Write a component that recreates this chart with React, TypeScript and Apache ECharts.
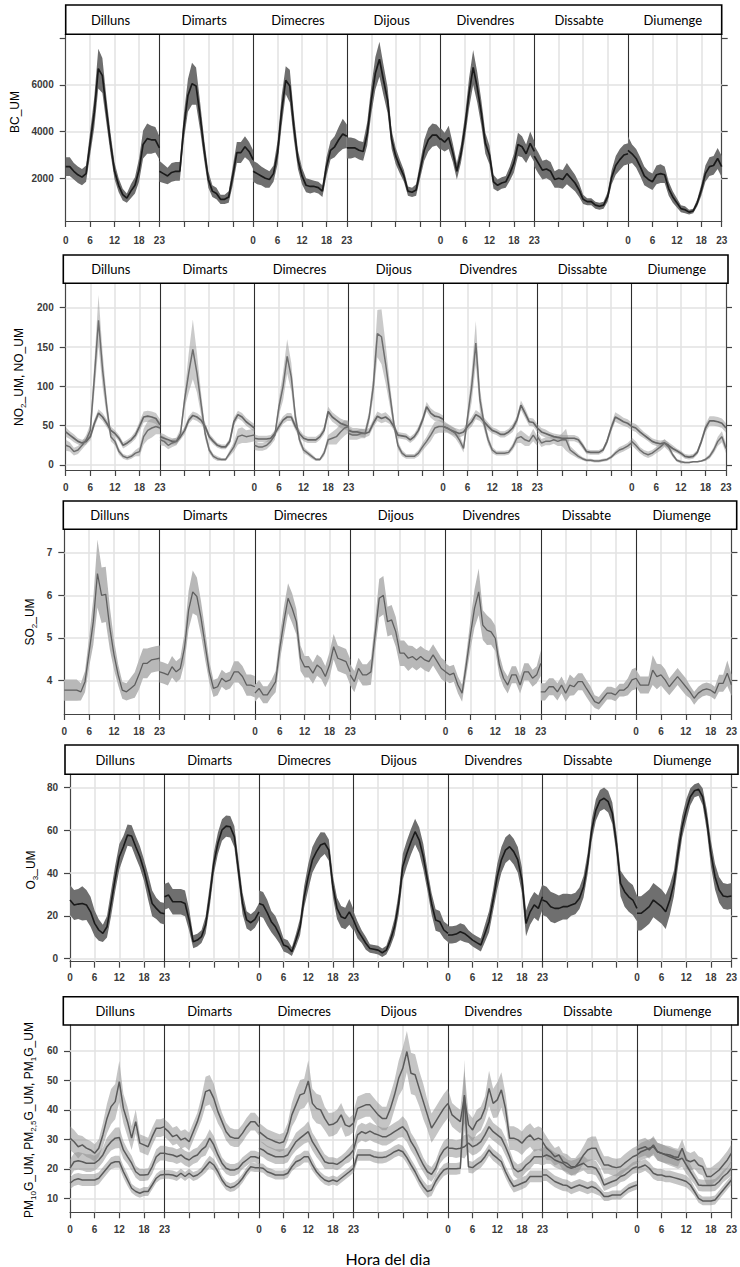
import React, { useEffect, useRef } from "react";
import * as echarts from "echarts";

// ---------- categories / ticks ----------
const days = ["Dilluns", "Dimarts", "Dimecres", "Dijous", "Divendres", "Dissabte", "Diumenge"];
const hourMarks = [0, 6, 12, 18];
const hourLabels = [0, 6, 12, 18, 23];
const labelledDays = [0, 2, 4, 6];
const xTitle = "Hora del dia";

// ---------- BC_UM ----------
const bcMean = [
  [2500, 2500, 2300, 2150, 2050, 2200, 3500, 4800, 6700, 6400, 4900, 3500, 2300, 1700, 1300, 1150, 1450, 1700, 2350, 3450, 3700, 3650, 3650, 3300],
  [2300, 2200, 2100, 2250, 2300, 2300, 4200, 5550, 6050, 5950, 4650, 3200, 1950, 1450, 1350, 1100, 1100, 1200, 2100, 3100, 3100, 3350, 3150, 2800],
  [2300, 2200, 2100, 2000, 1950, 2200, 3100, 4900, 6200, 5950, 4200, 2800, 2100, 1700, 1650, 1650, 1600, 1450, 2500, 3200, 3350, 3650, 3900, 3800],
  [3300, 3300, 3300, 3200, 3150, 3900, 5350, 6500, 7100, 6200, 5350, 3650, 2950, 2500, 2100, 1450, 1400, 1500, 2350, 3200, 3650, 3850, 3850, 3650],
  [3700, 3550, 3750, 3100, 2300, 3050, 4200, 5650, 6750, 5900, 4800, 3500, 3000, 1850, 1700, 1800, 1850, 2200, 2650, 3450, 3350, 3050, 3500, 3150],
  [2950, 2650, 2350, 2400, 2300, 1950, 2000, 1950, 2200, 2000, 1800, 1500, 1100, 1000, 1000, 850, 800, 850, 1200, 2050, 2550, 2800, 3000, 3050],
  [3200, 3050, 2850, 2500, 2100, 1950, 1850, 2150, 2200, 2150, 1550, 1200, 950, 700, 650, 550, 600, 950, 1500, 2200, 2500, 2550, 2850, 2500],
];
const bcHalf = [
  [400, 400, 350, 350, 350, 350, 500, 650, 850, 750, 550, 450, 350, 300, 250, 200, 300, 350, 500, 600, 650, 600, 550, 500],
  [450, 400, 350, 400, 400, 400, 550, 700, 900, 800, 600, 450, 350, 250, 250, 200, 200, 250, 400, 450, 450, 450, 400, 400],
  [450, 450, 400, 400, 350, 350, 500, 650, 600, 700, 550, 400, 350, 300, 300, 250, 250, 250, 400, 400, 450, 550, 650, 500],
  [450, 450, 400, 400, 400, 500, 600, 700, 750, 650, 550, 400, 350, 300, 250, 200, 200, 250, 350, 450, 500, 500, 450, 450],
  [450, 400, 500, 400, 350, 400, 500, 650, 750, 650, 550, 450, 400, 300, 250, 250, 250, 300, 400, 500, 450, 400, 500, 450],
  [450, 450, 400, 400, 400, 350, 400, 400, 450, 400, 350, 300, 200, 150, 150, 150, 150, 150, 200, 300, 400, 450, 450, 450],
  [600, 400, 400, 400, 400, 350, 350, 400, 400, 350, 300, 250, 200, 150, 150, 100, 100, 150, 250, 350, 400, 400, 450, 450],
];

// ---------- NO2_UM ----------
const no2Mean = [
  [42, 38, 34, 30, 28, 30, 36, 53, 66, 61, 53, 44, 40, 34, 25, 28, 32, 38, 49, 61, 62, 61, 59, 51],
  [36, 34, 32, 30, 30, 36, 44, 57, 63, 61, 57, 49, 36, 30, 25, 23, 23, 30, 55, 64, 61, 55, 51, 47],
  [34, 33, 33, 33, 34, 40, 49, 57, 61, 61, 49, 40, 34, 32, 32, 32, 36, 44, 68, 61, 57, 53, 51, 49],
  [44, 42, 42, 41, 40, 42, 53, 62, 59, 61, 57, 49, 38, 37, 36, 32, 36, 44, 57, 74, 66, 62, 61, 58],
  [49, 47, 44, 42, 40, 42, 49, 55, 64, 61, 55, 49, 44, 42, 39, 39, 42, 47, 57, 76, 66, 55, 54, 47],
  [47, 42, 40, 38, 36, 35, 34, 34, 34, 34, 32, 25, 17, 16, 16, 16, 19, 30, 47, 61, 58, 55, 53, 49],
  [49, 47, 42, 38, 34, 30, 28, 27, 28, 25, 21, 18, 15, 11, 10, 11, 16, 30, 47, 56, 56, 55, 53, 47],
];
const no2Half = [
  [6, 5, 5, 4, 4, 4, 5, 5, 5, 5, 5, 5, 4, 4, 4, 4, 4, 5, 6, 7, 7, 7, 7, 7],
  [5, 5, 4, 4, 4, 4, 5, 5, 5, 5, 5, 5, 4, 4, 3, 3, 3, 4, 5, 5, 5, 5, 5, 5],
  [5, 4, 4, 4, 4, 4, 5, 5, 5, 5, 5, 5, 4, 4, 4, 4, 4, 5, 6, 6, 6, 6, 6, 6],
  [6, 5, 5, 5, 5, 5, 5, 6, 6, 6, 5, 5, 4, 4, 4, 4, 4, 5, 5, 6, 6, 6, 5, 5],
  [5, 5, 5, 5, 5, 5, 5, 6, 6, 5, 5, 5, 4, 4, 4, 4, 4, 5, 5, 6, 6, 5, 5, 5],
  [5, 5, 5, 4, 4, 4, 4, 4, 4, 4, 4, 4, 3, 3, 3, 3, 3, 4, 5, 6, 6, 5, 5, 5],
  [5, 5, 5, 4, 4, 4, 4, 4, 4, 4, 4, 3, 3, 3, 3, 3, 3, 4, 5, 6, 6, 6, 6, 6],
];

// ---------- NO_UM ----------
const noMean = [
  [25, 23, 17, 19, 25, 32, 44, 112, 184, 121, 74, 36, 30, 17, 11, 9, 11, 15, 17, 36, 44, 47, 49, 47],
  [32, 30, 25, 28, 30, 40, 83, 117, 147, 117, 78, 40, 19, 11, 8, 7, 7, 15, 23, 36, 38, 36, 37, 38],
  [25, 23, 23, 25, 30, 38, 74, 100, 138, 112, 61, 32, 19, 15, 11, 7, 7, 15, 32, 34, 36, 42, 47, 49],
  [40, 38, 38, 40, 40, 61, 100, 167, 163, 129, 91, 53, 25, 15, 11, 11, 11, 15, 23, 30, 38, 47, 49, 49],
  [49, 47, 44, 40, 32, 21, 61, 100, 155, 83, 53, 32, 19, 15, 15, 15, 16, 23, 34, 36, 32, 30, 38, 30],
  [36, 28, 30, 30, 32, 30, 32, 32, 19, 15, 11, 8, 6, 6, 5, 5, 6, 7, 10, 15, 19, 21, 24, 28],
  [30, 25, 19, 15, 13, 15, 19, 23, 28, 23, 13, 6, 4, 3, 3, 4, 4, 5, 7, 11, 19, 30, 36, 21],
];
const noHalf = [
  [7, 6, 5, 5, 5, 6, 8, 20, 32, 22, 12, 6, 5, 4, 3, 3, 3, 4, 6, 10, 12, 12, 10, 8],
  [7, 6, 5, 5, 5, 6, 10, 25, 38, 25, 14, 7, 4, 3, 3, 2, 2, 4, 6, 10, 10, 8, 8, 8],
  [6, 5, 5, 5, 5, 6, 10, 18, 22, 18, 10, 5, 4, 3, 3, 2, 2, 4, 6, 8, 10, 10, 10, 8],
  [8, 6, 6, 6, 6, 8, 15, 30, 35, 25, 15, 8, 5, 4, 3, 3, 3, 4, 5, 6, 8, 8, 8, 8],
  [8, 6, 6, 6, 6, 5, 10, 20, 28, 15, 8, 6, 4, 3, 3, 3, 3, 4, 6, 8, 8, 6, 8, 6],
  [6, 5, 5, 5, 5, 6, 8, 14, 5, 4, 3, 2, 2, 2, 2, 2, 2, 2, 2, 3, 4, 4, 4, 5],
  [5, 5, 4, 4, 4, 4, 4, 5, 5, 5, 3, 2, 2, 1, 1, 1, 1, 1, 2, 3, 4, 6, 7, 6],
];

// ---------- SO2_UM ----------
const so2Mean = [
  [3.77, 3.77, 3.77, 3.77, 3.73, 3.97, 4.67, 5.38, 6.51, 6.0, 6.02, 5.22, 4.6, 4.13, 3.77, 3.73, 3.81, 3.89, 4.13, 4.4, 4.4, 4.48, 4.5, 4.52],
  [4.2, 4.17, 4.13, 4.32, 4.2, 4.28, 4.75, 5.65, 6.08, 5.97, 5.46, 4.83, 4.2, 3.81, 3.85, 4.05, 3.97, 4.01, 4.2, 4.2, 4.09, 3.89, 3.89, 3.85],
  [3.7, 3.81, 3.66, 3.66, 3.81, 3.97, 4.75, 5.38, 5.93, 5.69, 5.38, 4.52, 4.32, 4.32, 4.17, 4.36, 4.28, 4.09, 4.36, 4.79, 4.52, 4.48, 4.44, 4.2],
  [4.13, 3.97, 4.28, 4.13, 4.13, 4.2, 5.07, 5.93, 6.0, 5.38, 5.42, 5.14, 4.64, 4.64, 4.52, 4.56, 4.48, 4.56, 4.48, 4.44, 4.6, 4.44, 4.28, 4.2],
  [4.2, 4.13, 4.17, 3.89, 3.7, 4.36, 5.07, 5.69, 6.08, 5.3, 5.18, 5.14, 4.99, 4.36, 4.05, 3.89, 4.13, 4.13, 3.89, 4.2, 4.2, 4.05, 4.13, 4.4],
  [3.73, 3.73, 3.85, 3.85, 3.73, 3.89, 3.7, 3.89, 3.85, 3.97, 3.97, 3.81, 3.66, 3.5, 3.46, 3.58, 3.7, 3.7, 3.66, 3.77, 3.77, 3.85, 4.01, 4.05],
  [4.05, 3.89, 3.89, 3.89, 4.24, 4.09, 4.13, 4.01, 3.85, 3.97, 4.09, 3.97, 3.85, 3.73, 3.58, 3.7, 3.77, 3.8, 3.77, 3.7, 3.93, 3.93, 4.17, 3.89],
];
const so2Half = [
  [0.25, 0.25, 0.25, 0.25, 0.2, 0.25, 0.35, 0.55, 0.8, 0.65, 0.65, 0.5, 0.35, 0.25, 0.2, 0.2, 0.25, 0.3, 0.35, 0.35, 0.35, 0.3, 0.3, 0.3],
  [0.25, 0.25, 0.25, 0.25, 0.25, 0.25, 0.35, 0.45, 0.5, 0.45, 0.4, 0.35, 0.25, 0.2, 0.2, 0.2, 0.2, 0.2, 0.25, 0.25, 0.25, 0.25, 0.25, 0.25],
  [0.2, 0.2, 0.2, 0.2, 0.2, 0.25, 0.3, 0.35, 0.35, 0.35, 0.3, 0.3, 0.25, 0.25, 0.25, 0.25, 0.25, 0.25, 0.3, 0.3, 0.3, 0.3, 0.3, 0.3],
  [0.25, 0.25, 0.25, 0.25, 0.25, 0.3, 0.35, 0.45, 0.45, 0.35, 0.35, 0.35, 0.3, 0.3, 0.3, 0.25, 0.25, 0.25, 0.25, 0.25, 0.25, 0.25, 0.25, 0.25],
  [0.2, 0.2, 0.2, 0.2, 0.2, 0.25, 0.35, 0.45, 0.55, 0.35, 0.35, 0.3, 0.3, 0.25, 0.2, 0.2, 0.2, 0.2, 0.2, 0.2, 0.2, 0.2, 0.2, 0.3],
  [0.2, 0.2, 0.2, 0.2, 0.2, 0.2, 0.2, 0.25, 0.2, 0.2, 0.2, 0.2, 0.2, 0.15, 0.15, 0.15, 0.15, 0.15, 0.15, 0.15, 0.15, 0.2, 0.25, 0.25],
  [0.2, 0.2, 0.2, 0.2, 0.35, 0.3, 0.25, 0.25, 0.2, 0.2, 0.2, 0.2, 0.2, 0.15, 0.15, 0.15, 0.15, 0.15, 0.15, 0.15, 0.2, 0.2, 0.3, 0.25],
];

// ---------- O3_UM ----------
const o3Mean = [
  [27.4, 25.1, 25.5, 25.8, 25.1, 21.9, 16.5, 13.4, 11.8, 14.9, 25.8, 37.5, 47.6, 52.3, 57.7, 57.3, 52.3, 47.6, 41.4, 33.6, 25.8, 23.5, 21.5, 21],
  [28.9, 29.7, 26.6, 26.6, 26.6, 25.8, 18.1, 7.9, 8.7, 10.3, 15.7, 28.9, 44.5, 53.9, 60.1, 61.9, 61.6, 57.0, 41.4, 25.8, 18.1, 16.8, 18.4, 21.9],
  [25.8, 25.1, 21.5, 17.3, 14.9, 11.1, 6.4, 5.6, 3.3, 8.7, 14.9, 28.9, 38.3, 46.1, 50.0, 53.1, 53.9, 50.7, 33.6, 23.5, 19.6, 18.8, 21.9, 18.1],
  [18.1, 13.4, 10.3, 7.2, 4.8, 4.4, 4.0, 2.8, 4.0, 8.7, 14.9, 25.8, 43.0, 49.2, 54.6, 59.3, 55.4, 47.6, 36.7, 25.8, 18.1, 17.3, 13.4, 11.8],
  [11.1, 11.1, 11.5, 12.6, 11.8, 10.3, 8.7, 7.5, 6.4, 11.8, 17.3, 27.4, 38.3, 46.1, 50.7, 52.3, 50.0, 46.1, 36.7, 16.5, 21.9, 25.1, 23.5, 28.9],
  [27.4, 26.6, 24.3, 23.5, 23.5, 24.3, 24.3, 25.1, 25.8, 28.2, 33.6, 44.5, 60.1, 69.4, 73.8, 74.9, 73.3, 67.9, 53.9, 35.2, 31.3, 28.9, 27.4, 23.5],
  [21.2, 21.2, 22.7, 24.3, 27.4, 25.8, 24.3, 21.9, 27.4, 35.2, 49.2, 61.6, 69.4, 75.6, 78.4, 79.1, 75.6, 64.7, 49.2, 38.3, 32.1, 29.3, 28.9, 29.3],
];
const o3Half = [
  [7, 7, 7, 8, 7, 7, 6, 5, 4, 5, 6, 6, 6, 5, 5, 5, 5, 5, 5, 6, 6, 5, 5, 5],
  [6, 6, 6, 6, 6, 6, 5, 3, 3, 3, 4, 5, 5, 5, 5, 5, 5, 5, 5, 5, 4, 4, 4, 4],
  [6, 6, 6, 5, 5, 4, 3, 3, 2, 3, 4, 5, 6, 6, 6, 6, 5, 5, 5, 5, 5, 5, 6, 5],
  [4, 4, 3, 3, 2, 2, 2, 2, 2, 3, 4, 5, 6, 6, 6, 6, 6, 6, 5, 5, 5, 5, 4, 4],
  [4, 4, 4, 4, 4, 3, 3, 3, 3, 4, 5, 5, 6, 6, 6, 6, 6, 6, 6, 6, 6, 6, 6, 6],
  [7, 7, 7, 7, 6, 6, 6, 5, 5, 5, 5, 5, 5, 5, 5, 5, 5, 5, 5, 6, 7, 7, 7, 6],
  [8, 8, 8, 8, 8, 8, 8, 8, 7, 6, 6, 5, 5, 4, 3, 3, 4, 5, 6, 6, 6, 6, 6, 6],
];

// ---------- PM10G_UM ----------
const pm10Mean = [
  [30.4, 29.2, 27.5, 28.1, 27, 26.4, 25.3, 27, 31.5, 37.1, 41.1, 42.8, 49.6, 40.5, 36, 30.4, 36, 28.7, 28.1, 27.5, 30.9, 33.8, 33.8, 34.3],
  [33.8, 32.6, 30.9, 31.5, 29.8, 30.4, 29.2, 32.6, 36, 40.5, 46.2, 46.8, 43.9, 39.4, 36, 32.6, 30.9, 30.4, 30.4, 32.1, 34.3, 36, 36, 34.3],
  [32.6, 31.5, 30.4, 29.8, 29.2, 28.7, 29.2, 32.6, 38.3, 41.7, 45.1, 45.6, 49.8, 42.2, 40.5, 40, 37.1, 34.9, 35.1, 36, 38.3, 34.9, 34.3, 35.5],
  [35.5, 40.5, 41.1, 41.7, 41.7, 40, 38.3, 37.1, 37.1, 40.5, 45.1, 50.7, 54.1, 59.8, 52.4, 51.9, 47.3, 42.8, 38.3, 33.8, 36, 38.3, 40.5, 42.2],
  [42.2, 38.3, 37.1, 36, 44.5, 34.9, 33.2, 36, 37.1, 40.5, 47.3, 42.2, 43.4, 46.8, 40.5, 30.4, 30.4, 29.8, 28.7, 30.4, 31.5, 29.8, 30.4, 29.8],
  [29.2, 27, 25.8, 24.1, 24.7, 22.4, 21.9, 20.7, 20.7, 22.4, 24.7, 26.4, 27, 27, 24.1, 21.3, 21.3, 20.7, 20.4, 20.7, 21.9, 23, 24.1, 24.7],
  [26.4, 27, 27.5, 26.4, 28.1, 25.8, 25.3, 24.9, 24.7, 24.1, 23.8, 27, 23, 22.4, 23, 21.3, 20.7, 17.4, 17.4, 18.5, 19.6, 21.3, 23, 25.3],
];
const pm10Half = [
  [4, 4, 4, 3, 3, 3, 3, 3, 4, 5, 6, 6, 7, 5, 5, 4, 4, 3, 3, 3, 3, 3, 3, 3],
  [3, 3, 3, 3, 3, 3, 3, 3, 3, 4, 5, 5, 5, 4, 3, 3, 3, 3, 3, 3, 3, 3, 3, 3],
  [3, 3, 3, 3, 3, 3, 3, 3, 4, 5, 5, 5, 7, 5, 5, 5, 4, 4, 4, 4, 4, 4, 3, 3],
  [4, 4, 4, 4, 4, 4, 4, 4, 4, 5, 5, 6, 7, 7, 7, 7, 6, 6, 5, 5, 5, 5, 5, 5],
  [5, 4, 4, 4, 9, 4, 4, 4, 4, 4, 6, 5, 6, 6, 5, 4, 4, 4, 4, 4, 4, 4, 4, 4],
  [4, 4, 3, 3, 3, 3, 3, 3, 3, 3, 3, 4, 4, 4, 3, 3, 3, 3, 3, 3, 3, 3, 3, 3],
  [3, 3, 3, 3, 3, 3, 3, 3, 3, 3, 3, 3, 3, 3, 3, 3, 3, 3, 3, 3, 3, 3, 3, 3],
];

// ---------- PM2.5G_UM ----------
const pm25Mean = [
  [20.2, 22.4, 22.7, 22.4, 21.9, 21.9, 21.9, 23, 24.7, 27.5, 29.2, 30.4, 30.6, 26.4, 24.1, 21.9, 19, 17.9, 17.9, 18.1, 20.7, 24.1, 25.3, 25.3],
  [25.3, 24.9, 24.7, 24.1, 24.7, 23.6, 23, 24.1, 24.7, 26.4, 27.5, 30.4, 28.1, 24.7, 21.9, 20.2, 19.6, 19.6, 20.2, 21.9, 23, 24.1, 24.1, 23.6],
  [27, 26.4, 25.3, 24.7, 24.1, 24.1, 24.1, 24.7, 27, 29.2, 30.4, 31.5, 32.6, 29.2, 27, 24.7, 22.4, 21.9, 21.9, 21.5, 22.4, 23.6, 24.7, 26.4],
  [26.4, 31.5, 32.6, 32, 32.8, 32, 31.5, 30.9, 30.9, 31.7, 32.6, 33.5, 34.3, 32.6, 29.2, 27, 24.1, 21.3, 19, 18.1, 20.2, 24.1, 26.4, 27.5],
  [27, 27, 26.7, 27, 27.5, 28.7, 27.5, 28.1, 29.2, 31.5, 34.3, 32.6, 31.5, 30.4, 27.5, 24.1, 20.2, 19, 19.6, 21.3, 22.4, 24.1, 24.1, 24.1],
  [24.1, 24.7, 24.1, 23, 22.4, 21.9, 20.7, 20.2, 20.7, 21.3, 21.9, 20.7, 20.7, 20.2, 17.9, 14.5, 15.1, 15.7, 16.2, 17.4, 17.9, 19, 20.2, 20.7],
  [24.7, 25.8, 26.4, 27, 27.5, 25.8, 25.3, 24.7, 24.1, 23.6, 23, 23.6, 21.3, 19, 16.8, 14.5, 14.3, 14.3, 14.3, 14.5, 15.7, 17.4, 18.5, 20.2],
];
const pm25Half = [
  [3, 3, 3, 3, 3, 3, 2.5, 2.5, 2.5, 3, 3, 3.5, 3.5, 3, 2.5, 2.5, 2, 2, 2, 2, 2.5, 2.5, 2.5, 2.5],
  [2.5, 2.5, 2.5, 2.5, 2.5, 2.5, 2.5, 2.5, 2.5, 2.5, 3, 3, 3, 2.5, 2, 2, 2, 2, 2, 2, 2, 2, 2, 2],
  [2.5, 2.5, 2.5, 2.5, 2.5, 2.5, 2.5, 2.5, 2.5, 3, 3, 3, 3.5, 3, 3, 2.5, 2.5, 2, 2, 2, 2, 2, 2.5, 2.5],
  [3, 3, 3, 3, 3, 3, 3, 3, 3, 3, 3, 3, 3.5, 3.5, 3, 3, 3, 2.5, 2.5, 2.5, 2.5, 2.5, 3, 3],
  [3, 3, 3, 3, 4, 3, 3, 3, 3, 3, 3.5, 3, 3, 3, 3, 2.5, 2.5, 2.5, 2.5, 2.5, 2.5, 2.5, 2.5, 3],
  [3, 3, 2.5, 2.5, 2.5, 2.5, 2.5, 2.5, 2.5, 2.5, 2.5, 2.5, 2.5, 2.5, 2.5, 2, 2, 2, 2, 2, 2, 2, 2, 2],
  [3, 3, 3, 3, 3, 3, 3, 3, 3, 3, 3, 3, 3, 2.5, 2, 2, 2, 2, 2, 2, 2, 2, 2, 2.5],
];

// ---------- PM1G_UM ----------
const pm1Mean = [
  [15.1, 16.2, 16.6, 16.2, 16.2, 16.2, 16.2, 16.8, 18.5, 20.2, 21.9, 22.4, 22.4, 19, 16.2, 13.4, 12.3, 11.7, 12.3, 12.3, 14.5, 16.8, 17.9, 18.1],
  [18.1, 18.1, 17.9, 17.4, 18.5, 17.4, 18.5, 17.4, 17.9, 19, 20.7, 22.4, 21.3, 19, 16.2, 14.3, 13.6, 14, 15.1, 16.8, 19, 20.7, 20.4, 20.4],
  [20.4, 20.2, 19, 18.5, 17.9, 17.9, 17.9, 18.5, 20.7, 22.4, 23, 24.1, 24.1, 21.3, 19, 17.4, 16.2, 15.7, 16.2, 15.7, 16.8, 17.9, 19, 20.2],
  [20.2, 24.7, 24.7, 24.7, 24.7, 24.1, 23.8, 23.8, 24.1, 24.9, 25.8, 26.4, 25.8, 23.8, 21.3, 19, 16.2, 14, 12.3, 12.8, 15.7, 17.9, 19.6, 20.2],
  [20, 20, 20, 20.2, 45, 20.7, 20.4, 21.5, 22.4, 24.1, 26.4, 24.7, 23.6, 22.4, 19, 16.2, 14, 14.5, 15.1, 15.7, 17.4, 17.4, 17.4, 17.4],
  [17.9, 17.9, 16.8, 15.7, 15.1, 14.5, 14.3, 13.4, 14, 14.5, 14, 13.4, 14, 13.4, 12.3, 10.6, 10.6, 11.1, 11.1, 11.1, 12.3, 13.4, 14, 14.5],
  [20.2, 20.7, 21.3, 20.2, 18.5, 17.9, 17.9, 17.4, 17.4, 17, 16.6, 16.2, 15.7, 14.5, 12.3, 10, 9.1, 9.1, 9.1, 9.4, 11.1, 12.8, 14.5, 16.2],
];
const pm1Half = [
  [2, 2, 2, 2, 2, 2, 2, 2, 2, 2, 2, 2, 2, 2, 2, 1.5, 1.5, 1.5, 1.5, 1.5, 1.5, 1.5, 1.5, 1.5],
  [1.5, 1.5, 1.5, 1.5, 1.5, 1.5, 1.5, 1.5, 1.5, 1.5, 2, 2, 2, 2, 1.5, 1.5, 1.5, 1.5, 1.5, 1.5, 1.5, 1.5, 1.5, 1.5],
  [1.5, 1.5, 1.5, 1.5, 1.5, 1.5, 1.5, 1.5, 1.5, 2, 2, 2, 2, 2, 1.5, 1.5, 1.5, 1.5, 1.5, 1.5, 1.5, 1.5, 1.5, 1.5],
  [2, 2, 2, 2, 2, 2, 2, 2, 2, 2, 2, 2, 2, 2, 2, 2, 2, 2, 2, 2, 2, 2, 2, 2],
  [2, 2, 2, 2, 12, 2, 2, 2, 2, 2, 2, 2, 2, 2, 2, 2, 2, 2, 2, 2, 2, 2, 2, 2],
  [2, 2, 2, 2, 2, 2, 2, 2, 2, 2, 2, 2, 2, 2, 1.5, 1.5, 1.5, 1.5, 1.5, 1.5, 1.5, 1.5, 1.5, 1.5],
  [2, 2, 2, 2, 2, 2, 2, 2, 2, 2, 2, 2, 2, 2, 1.5, 1.5, 1.5, 1.5, 1.5, 1.5, 1.5, 1.5, 1.5, 1.5],
];

// ---------- y axis ticks ----------
const bcTicks = [2000, 4000, 6000, 8000];
const bcLabels = [2000, 4000, 6000];
const noxTicks = [0, 50, 100, 150, 200];
const so2Ticks = [4, 5, 6, 7];
const o3Ticks = [0, 20, 40, 60, 80];
const pmTicks = [10, 20, 30, 40, 50, 60];

// ---------- layout ----------
const SPAN = 23; // x units per day
const X_MAX = SPAN * days.length;

const DARK = "#1a1a1a";
const DARK_BAND = "#6f6f6f";

const panels = [
  {
    grid: { left: 65.7, top: 34.3, width: 656, height: 186.7 },
    strip: { x: 65.7, y: 5, w: 656, h: 29.3 },
    yMin: 170, yMax: 8170, yTicks: bcTicks, yLabels: bcLabels, yGrid: [2000, 4000, 6000],
    labelMargin: 19,
    name: "{a|BC_UM}", nameX: 15, nameY: 112,
    series: [{ mean: bcMean, half: bcHalf, line: DARK, band: DARK_BAND, width: 1.7 }],
  },
  {
    grid: { left: 65.7, top: 283.3, width: 660.3, height: 186.7 },
    strip: { x: 63.3, y: 255, w: 664.7, h: 28.3 },
    yMin: -6.4, yMax: 231, yTicks: noxTicks, yLabels: noxTicks, yGrid: noxTicks,
    labelMargin: 17,
    name: "{a|NO}{s|2}{a|_UM, NO_UM}", nameX: 19, nameY: 377,
    series: [
      { mean: no2Mean, half: no2Half, line: "#666666", band: "rgba(150,150,150,0.5)", width: 1.7 },
      { mean: noMean, half: noHalf, line: "#6e6e6e", band: "rgba(150,150,150,0.5)", width: 1.5 },
    ],
  },
  {
    grid: { left: 64.3, top: 529.3, width: 671.4, height: 184.7 },
    strip: { x: 63.3, y: 501, w: 673.4, h: 28.3 },
    yMin: 3.21, yMax: 7.55, yTicks: so2Ticks, yLabels: so2Ticks, yGrid: so2Ticks,
    labelMargin: 17.5,
    name: "{a|SO}{s|2}{a|_UM}", nameX: 30, nameY: 622,
    series: [{ mean: so2Mean, half: so2Half, line: "#5f5f5f", band: "#b8b8b8", width: 1.3 }],
  },
  {
    grid: { left: 70, top: 774.3, width: 665.7, height: 187.4 },
    strip: { x: 65, y: 745, w: 673, h: 29.3 },
    yMin: -1.4, yMax: 86.1, yTicks: o3Ticks, yLabels: o3Ticks, yGrid: o3Ticks,
    labelMargin: 15.5,
    name: "{a|O}{s|3}{a|_UM}", nameX: 31, nameY: 870,
    series: [{ mean: o3Mean, half: o3Half, line: DARK, band: DARK_BAND, width: 1.6 }],
  },
  {
    grid: { left: 70, top: 1025, width: 664.3, height: 187.3 },
    strip: { x: 63.3, y: 996.7, w: 674.7, h: 28.3 },
    yMin: 5.24, yMax: 68.8, yTicks: pmTicks, yLabels: pmTicks, yGrid: pmTicks,
    labelMargin: 17.5,
    name: "{a|PM}{s|10}{a|G_UM, PM}{s|2,5}{a|G_UM, PM}{s|1}{a|G_UM}", nameX: 29, nameY: 1120,
    series: [
      { mean: pm10Mean, half: pm10Half, line: "#5a5a5a", band: "rgba(140,140,140,0.5)", width: 1.5 },
      { mean: pm25Mean, half: pm25Half, line: "#5a5a5a", band: "rgba(140,140,140,0.5)", width: 1.5 },
      { mean: pm1Mean, half: pm1Half, line: "#5a5a5a", band: "rgba(140,140,140,0.5)", width: 1.5 },
    ],
  },
];

const tickFont = { fontFamily: "Liberation Sans", fontWeight: "bold" as const, fontSize: 10, color: "#3a3a3a" };

function lineData(m: number[][]) {
  const out: any[] = [];
  m.forEach((day, d) => {
    day.forEach((v, h) => out.push([d * SPAN + h, v]));
    out.push([d * SPAN + SPAN, "-"]);
  });
  return out;
}

function buildOption() {
  const grid: any[] = [];
  const xAxis: any[] = [];
  const yAxis: any[] = [];
  const series: any[] = [];
  const graphic: any[] = [];

  const xTickVals: number[] = [];
  days.forEach((_, d) => hourMarks.forEach((h) => xTickVals.push(d * SPAN + h)));
  xTickVals.push(X_MAX);
  const xLabelVals: number[] = [];
  labelledDays.forEach((d) => hourLabels.forEach((h) => xLabelVals.push(d * SPAN + h)));
  const dayCenters = days.map((_, d) => d * SPAN + 11);

  panels.forEach((p, i) => {
    grid.push({ ...p.grid });
    xAxis.push({
      type: "value", gridIndex: i, position: "bottom", min: 0, max: X_MAX,
      axisLine: { show: true, onZero: false, lineStyle: { color: "#444", width: 1.2 } },
      axisTick: { show: true, customValues: xTickVals, length: 6, lineStyle: { color: "#444", width: 1.2 } },
      axisLabel: {
        show: true, customValues: xLabelVals, margin: p.labelMargin, verticalAlign: "middle", ...tickFont,
        formatter: (v: number) => {
          const d = Math.round((v - (v % SPAN)) / SPAN);
          const h = Math.round(v - d * SPAN);
          if (h === 0 && d % 2 === 1) return String(SPAN);
          return String(h);
        },
      },
      splitLine: { show: false },
    });
    xAxis.push({
      type: "value", gridIndex: i, position: "top", min: 0, max: X_MAX,
      axisLine: { show: false }, axisTick: { show: false }, splitLine: { show: false },
      axisLabel: {
        show: true, customValues: dayCenters, margin: (p.grid.top - (p.strip.y + p.strip.h / 2)),
        verticalAlign: "middle", fontFamily: "Lato", fontSize: 13, color: "#000",
        formatter: (v: number) => days[Math.floor(v / SPAN)],
      },
    });
    yAxis.push({
      type: "value", gridIndex: i, position: "left", min: p.yMin, max: p.yMax,
      axisLine: { show: true, onZero: false, lineStyle: { color: "#444", width: 1.2 } },
      axisTick: { show: true, customValues: p.yTicks, length: 6, lineStyle: { color: "#444", width: 1.2 } },
      axisLabel: { show: true, customValues: p.yLabels, margin: 12, ...tickFont, formatter: (v: number) => String(v) },
      splitLine: { show: false },
    });
    yAxis.push({
      type: "value", gridIndex: i, position: "right", min: p.yMin, max: p.yMax,
      axisLine: { show: true, onZero: false, lineStyle: { color: "#444", width: 1.2 } },
      axisTick: { show: true, customValues: p.yTicks, length: 6, lineStyle: { color: "#444", width: 1.2 } },
      axisLabel: { show: false },
      splitLine: { show: false },
    });

    const xi = i * 2;
    const yi = i * 2;
    // grid lines (light) and day separators (dark)
    const ml: any[] = [];
    p.yGrid.forEach((v) => ml.push({ yAxis: v }));
    days.forEach((_, d) => [6, 12, 18].forEach((h) => ml.push({ xAxis: d * SPAN + h })));
    days.forEach((_, d) => {
      if (d > 0) ml.push({ xAxis: d * SPAN, lineStyle: { color: "#2e2e2e", width: 1.1, type: "solid" } });
    });
    series.push({
      type: "line", xAxisIndex: xi, yAxisIndex: yi, data: [[0, p.yMin]], showSymbol: false,
      lineStyle: { opacity: 0 }, silent: true, z: 1,
      markLine: {
        silent: true, symbol: ["none", "none"], z: 1, animation: false,
        label: { show: false },
        lineStyle: { color: "#e2e2e2", width: 1.5, type: "solid" },
        emphasis: { disabled: true },
        data: ml,
      },
    });

    p.series.forEach((s) => {
      series.push({
        type: "custom", xAxisIndex: xi, yAxisIndex: yi, z: 2, clip: true, silent: true,
        data: days.map((_, d) => [d, s.mean[d][0]]),
        encode: { x: 0, y: 1 },
        renderItem: (_params: any, api: any) => {
          const d = api.value(0) as number;
          const pts: number[][] = [];
          for (let h = 0; h < 24; h++) pts.push(api.coord([d * SPAN + h, s.mean[d][h] + s.half[d][h]]));
          for (let h = 23; h >= 0; h--) pts.push(api.coord([d * SPAN + h, s.mean[d][h] - s.half[d][h]]));
          return { type: "polygon", shape: { points: pts }, style: { fill: s.band, stroke: "none" } };
        },
      });
    });
    p.series.forEach((s) => {
      series.push({
        type: "line", xAxisIndex: xi, yAxisIndex: yi, z: 3, silent: true,
        data: lineData(s.mean), showSymbol: false, connectNulls: false,
        lineStyle: { color: s.line, width: s.width },
      });
    });

    graphic.push({
      type: "rect", z: 100, silent: true,
      shape: { x: p.strip.x, y: p.strip.y, width: p.strip.w, height: p.strip.h },
      style: { fill: "none", stroke: "#000", lineWidth: 1.6 },
    });
    graphic.push({
      type: "text", z: 100, silent: true, x: p.nameX, y: p.nameY, rotation: Math.PI / 2,
      style: {
        text: p.name, align: "center", verticalAlign: "middle",
        rich: {
          a: { fontFamily: "Liberation Sans", fontSize: 12, color: "#333", lineHeight: 16, verticalAlign: "middle" },
          s: { fontFamily: "Liberation Sans", fontSize: 8, color: "#333", lineHeight: 16, verticalAlign: "bottom", padding: [0, 0, 0, 0] },
        },
      },
    });
  });

  graphic.push({
    type: "text", z: 100, silent: true, x: 388, y: 1258,
    style: { text: xTitle, align: "center", verticalAlign: "middle", fontFamily: "Lato", fontSize: 16, fill: "#000" },
  });

  return { animation: false, grid, xAxis, yAxis, series, graphic };
}

export default function App() {
  const ref = useRef<HTMLDivElement>(null);
  useEffect(() => {
    if (!ref.current) return;
    const chart = echarts.init(ref.current, undefined, { renderer: "svg" });
    chart.setOption(buildOption() as any);
    return () => chart.dispose();
  }, []);
  return (
    <div
      ref={ref}
      style={{ position: "fixed", left: 0, top: 0, width: 740, height: 1267, background: "#fff" }}
    />
  );
}
